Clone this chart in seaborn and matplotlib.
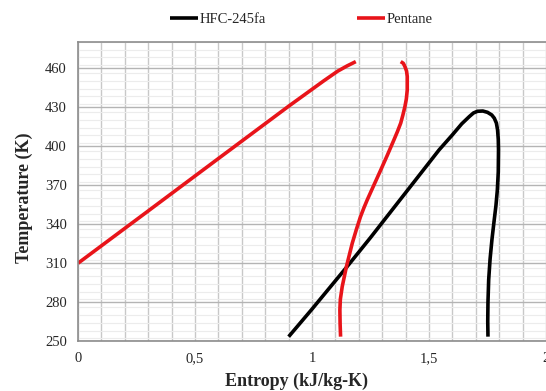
import matplotlib
matplotlib.use('Agg')
import matplotlib.pyplot as plt
import pandas as pd
import seaborn as sns
from matplotlib.ticker import MultipleLocator, FuncFormatter

# HFC-245fa saturation dome (entropy kJ/kg-K, temperature K)
hfc_s = [0.900, 1.000, 1.150, 1.250, 1.350, 1.450, 1.543, 1.600, 1.640, 1.672, 1.690,
         1.707, 1.730, 1.750, 1.768, 1.779, 1.788, 1.793, 1.796, 1.797, 1.796, 1.792,
         1.786, 1.778, 1.769, 1.761, 1.755, 1.752, 1.751, 1.752]
hfc_t = [253.3, 274.5, 307.2, 329.5, 352.5, 375.5, 396.9, 408.5, 417.0, 422.5, 425.3,
         426.6, 426.8, 425.8, 423.8, 421.3, 417.5, 412.3, 405.0, 397.0, 380.0, 366.0,
         354.0, 342.0, 328.0, 313.0, 297.0, 280.0, 265.0, 253.3]

# Pentane liquid line and vapour line
pent_liq_s = [0.0, 0.3, 0.6, 0.9, 1.05, 1.11, 1.15, 1.187]
pent_liq_t = [309.8, 350.0, 390.3, 430.5, 450.0, 457.5, 461.5, 464.8]
pent_vap_s = [1.379, 1.390, 1.397, 1.404, 1.407, 1.407, 1.403, 1.397, 1.388, 1.379,
              1.365, 1.350, 1.321, 1.290, 1.256, 1.236, 1.222, 1.207, 1.190, 1.172,
              1.147, 1.129, 1.121, 1.119, 1.120, 1.122]
pent_vap_t = [464.8, 463.5, 461.0, 457.5, 453.3, 443.0, 436.0, 430.2, 423.5, 417.5,
              411.0, 404.6, 392.5, 380.0, 366.5, 358.5, 352.5, 345.5, 336.0, 325.2,
              307.2, 291.8, 282.0, 273.8, 263.0, 253.3]

sns.set_style('white')
plt.rcParams['font.family'] = ['Liberation Serif', 'DejaVu Serif']

fig = plt.figure(figsize=(5.46, 3.91), dpi=100)
ax = fig.add_axes([0.143, 0.128, 0.857, 0.765])

hfc = pd.DataFrame({'s': hfc_s, 'T': hfc_t})
liq = pd.DataFrame({'s': pent_liq_s, 'T': pent_liq_t})
vap = pd.DataFrame({'s': pent_vap_s, 'T': pent_vap_t})

line_kw = dict(sort=False, estimator=None, lw=2.6, solid_joinstyle='round',
               solid_capstyle='butt', ax=ax)
sns.lineplot(data=hfc, x='s', y='T', color='black', label='HFC-245fa', **line_kw)
sns.lineplot(data=liq, x='s', y='T', color='#e8141a', label='Pentane', **line_kw)
sns.lineplot(data=vap, x='s', y='T', color='#e8141a', **line_kw)

ax.set_xlim(0, 2)
ax.set_ylim(250, 480)
ax.set_yticks([250, 280, 310, 340, 370, 400, 430, 460])
ax.xaxis.set_major_locator(MultipleLocator(0.5))
ax.xaxis.set_minor_locator(MultipleLocator(0.1))
ax.yaxis.set_minor_locator(MultipleLocator(6))
ax.xaxis.set_major_formatter(FuncFormatter(lambda v, p: ('%g' % v).replace('.', ',')))

ax.grid(True, which='major', axis='y', color='#b4b4b4', lw=1.0)
ax.grid(True, which='minor', axis='y', color='#ececec', lw=0.8)
ax.grid(True, which='both', axis='x', color='#c8c8c8', lw=1.0)
ax.set_axisbelow(True)

for side in ['left', 'bottom', 'top']:
    ax.spines[side].set_color('#8c8c8c')
    ax.spines[side].set_linewidth(1.2)
ax.spines['right'].set_visible(False)

ax.tick_params(axis='both', which='both', length=0, labelsize=10.5, pad=8)
ax.set_xlabel('Entropy (kJ/kg-K)', fontsize=13, fontweight='bold')
ax.set_ylabel('Temperature (K)', fontsize=13, fontweight='bold')
ax.xaxis.set_label_coords(0.466, -0.105)
ax.yaxis.set_label_coords(-0.097, 0.48)

ax.legend_.remove()
h, l = ax.get_legend_handles_labels()
fig.legend(h, l, loc='upper center', bbox_to_anchor=(0.552, 1.0), ncol=2, frameon=False,
           fontsize=10.5, handlelength=1.9, handletextpad=0.1, columnspacing=6.3)

plt.savefig('out.png', dpi=100)
